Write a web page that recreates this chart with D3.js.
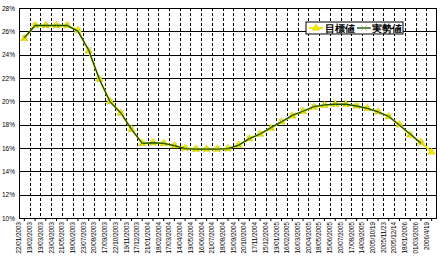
<!DOCTYPE html>
<html>
<head>
<meta charset="utf-8">
<script src="https://cdn.jsdelivr.net/npm/d3@7"></script>
<style>
  body { margin: 0; background: #fff; }
  svg { display: block; }
  text { font-family: "Liberation Sans", Arial, sans-serif; }
</style>
</head>
<body>
<div id="chart"></div>
<script>
const dates = [
  "22/01/2003", "19/02/2003", "19/03/2003", "23/04/2003", "21/05/2003", "18/06/2003",
  "23/07/2003", "20/08/2003", "17/09/2003", "22/10/2003", "19/11/2003", "17/12/2003",
  "21/01/2004", "18/02/2004", "17/03/2004", "14/04/2004", "19/05/2004", "16/06/2004",
  "21/07/2004", "18/08/2004", "15/09/2004", "20/10/2004", "17/11/2004", "15/12/2004",
  "19/01/2005", "16/02/2005", "16/03/2005", "20/04/2005", "18/05/2005", "15/06/2005",
  "20/07/2005", "17/08/2005", "14/09/2005", "2005/10/19", "2005/11/23", "2005/12/14",
  "18/01/2006", "01/03/2006", "2006/4/19"
];

// 目標値 (target)
const target = [
  25.4, 26.5, 26.5, 26.5, 26.5, 26.1, 24.3, 21.9, 20.0, 19.0, 17.6, 16.4,
  16.45, 16.4, 16.2, 16.0, 15.9, 15.9, 15.9, 15.95, 16.25, 16.8, 17.2, 17.7,
  18.25, 18.75, 19.15, 19.5, 19.65, 19.75, 19.75, 19.6, 19.4, 19.1, 18.7, 18.0,
  17.1, 16.5, 15.65
];

// 実勢値 (actual)
const actual = [
  25.45, 26.5, 26.5, 26.5, 26.5, 26.0, 24.4, 21.9, 19.95, 19.0, 17.6, 16.4,
  16.45, 16.4, 16.2, 15.95, 15.9, 15.9, 15.9, 15.95, 16.25, 16.8, 17.2, 17.75,
  18.25, 18.8, 19.15, 19.55, 19.7, 19.75, 19.75, 19.6, 19.4, 19.1, 18.7, 17.95,
  17.2, 16.4
];

const yTicks = [10, 12, 14, 16, 18, 20, 22, 24, 26, 28];

const W = 440, H = 261;
const margin = {top: 8, right: 3, bottom: 43, left: 19};
const width = W - margin.left - margin.right,
      height = H - margin.top - margin.bottom;

const svg = d3.select("#chart").append("svg")
    .attr("width", W)
    .attr("height", H);

const g = svg.append("g")
    .attr("transform", "translate(" + margin.left + "," + margin.top + ")");

const x = d3.scaleBand().domain(dates).range([0, width]);
const y = d3.scaleLinear().domain([10, 28]).range([height, 0]);

// vertical dashed grid at category boundaries
g.selectAll(".vgrid")
  .data(dates.slice(1))
  .enter().append("line")
    .attr("x1", d => Math.round(x(d)) + 0.5)
    .attr("x2", d => Math.round(x(d)) + 0.5)
    .attr("y1", 0)
    .attr("y2", height)
    .attr("stroke", "#000")
    .attr("stroke-width", 1)
    .attr("stroke-dasharray", "3,2");

// horizontal solid grid
g.selectAll(".hgrid")
  .data(yTicks)
  .enter().append("line")
    .attr("x1", 0)
    .attr("x2", width)
    .attr("y1", d => Math.round(y(d)) + 0.5)
    .attr("y2", d => Math.round(y(d)) + 0.5)
    .attr("stroke", "#000")
    .attr("stroke-width", 1);

// plot border left / right
g.append("line").attr("x1", 0.5).attr("x2", 0.5).attr("y1", 0).attr("y2", height).attr("stroke", "#000");
g.append("line").attr("x1", width - 0.5).attr("x2", width - 0.5).attr("y1", 0).attr("y2", height).attr("stroke", "#000");

// y axis labels
const yAxis = d3.axisLeft(y).tickValues(yTicks).tickSize(0).tickPadding(4).tickFormat(d => d + "%");
g.append("g").call(yAxis)
  .call(s => s.select(".domain").remove())
  .selectAll("text")
    .attr("font-size", 6.5)
    .attr("font-family", "Liberation Sans, Arial, sans-serif");

// x axis labels (rotated)
const xAxis = d3.axisBottom(x).tickSize(3);
g.append("g")
    .attr("transform", "translate(0," + height + ")")
    .call(xAxis)
  .call(s => s.select(".domain").remove())
  .call(s => s.selectAll(".tick line").attr("stroke", "#000"))
  .selectAll("text")
    .attr("font-size", 6.3)
    .attr("font-family", "Liberation Sans, Arial, sans-serif")
    .attr("text-anchor", "end")
    .attr("transform", "rotate(-90)")
    .attr("x", -4)
    .attr("y", -3)
    .attr("dy", "0");

const cx = d => x(d) + x.bandwidth() / 2;

// target line (yellow)
const line = d3.line().x((d, i) => cx(dates[i])).y(d => y(d));
g.append("path")
    .datum(target)
    .attr("fill", "none")
    .attr("stroke", "#f2ea00")
    .attr("stroke-width", 2)
    .attr("d", line);

// target markers (triangles)
const tri = d3.symbol().type(d3.symbolTriangle).size(24);
g.selectAll(".tmark")
  .data(target)
  .enter().append("path")
    .attr("transform", (d, i) => "translate(" + cx(dates[i]) + "," + y(d) + ")")
    .attr("d", tri)
    .attr("fill", "#f5e600")
    .attr("stroke", "#e0c800")
    .attr("stroke-width", 0.5);

// actual line (dark green)
g.append("path")
    .datum(actual)
    .attr("fill", "none")
    .attr("stroke", "#0d4d0d")
    .attr("stroke-width", 1.3)
    .attr("d", line);

// actual markers (x)
const cross = d3.symbol().type(d3.symbolTimes).size(26);
g.selectAll(".amark")
  .data(actual)
  .enter().append("path")
    .attr("transform", (d, i) => "translate(" + cx(dates[i]) + "," + y(d) + ")")
    .attr("d", cross)
    .attr("fill", "#c8e000")
    .attr("stroke", "#6a9a00")
    .attr("stroke-width", 0.4);

// legend
const lg = svg.append("g").attr("transform", "translate(306,22)");
lg.append("rect")
    .attr("width", 97).attr("height", 12)
    .attr("fill", "#fff").attr("stroke", "#000").attr("stroke-width", 1);
lg.append("line").attr("x1", 3).attr("x2", 17).attr("y1", 6).attr("y2", 6)
    .attr("stroke", "#f2ea00").attr("stroke-width", 2);
lg.append("path").attr("transform", "translate(10,6)").attr("d", tri)
    .attr("fill", "#f5e600").attr("stroke", "#e0c800").attr("stroke-width", 0.5);
lg.append("text").attr("x", 19).attr("y", 10).attr("font-size", 10).attr("font-weight", "bold")
    .attr("font-family", "Noto Sans CJK JP").text("目標値");
lg.append("line").attr("x1", 51).attr("x2", 65).attr("y1", 6).attr("y2", 6)
    .attr("stroke", "#0d4d0d").attr("stroke-width", 1.3);
lg.append("path").attr("transform", "translate(58,6)").attr("d", cross)
    .attr("fill", "#c8e000").attr("stroke", "#6a9a00").attr("stroke-width", 0.4);
lg.append("text").attr("x", 66).attr("y", 10).attr("font-size", 10).attr("font-weight", "bold")
    .attr("font-family", "Noto Sans CJK JP").text("実勢値");
</script>
</body>
</html>
